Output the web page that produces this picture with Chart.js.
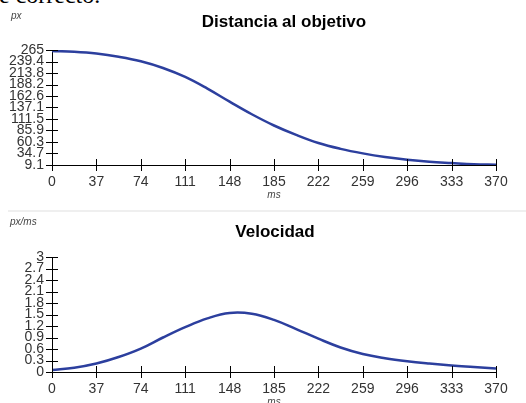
<!DOCTYPE html>
<html>
<head>
<meta charset="utf-8">
<script src="https://cdn.jsdelivr.net/npm/chart.js@4"></script>
<style>
  html, body { margin: 0; padding: 0; background: #fff; overflow: hidden; width: 526px; height: 403px; }
  #corte { position: absolute; left: -1px; top: -18px; font: 24px "Liberation Serif", serif; color: #000; white-space: nowrap; }
  #sep { position: absolute; left: 8px; top: 210px; width: 518px; height: 2px; background: #efefef; }
  #c1 { position: absolute; left: 0; top: 0; }
  #c2 { position: absolute; left: 0; top: 200px; }
</style>
</head>
<body>
<div id="corte">e correcto.</div>
<canvas id="c1" width="526" height="200"></canvas>
<div id="sep"></div>
<canvas id="c2" width="526" height="215"></canvas>
<script>
// ---------------- datos ----------------
const tiempos = [0, 18.5, 37, 55.5, 74, 92.5, 111, 129.5, 148, 166.5, 185, 203.5, 222, 240.5, 259, 277.5, 296, 314.5, 333, 351.5, 370];
const distancia = [263, 261, 257, 250, 240, 225, 205, 179, 150, 122, 97, 76, 58, 45, 35, 27, 21, 16.5, 13.5, 10.8, 9.6];
const velocidad = [0.05, 0.11, 0.22, 0.39, 0.61, 0.9, 1.17, 1.4, 1.54, 1.52, 1.36, 1.12, 0.87, 0.64, 0.47, 0.36, 0.28, 0.22, 0.17, 0.13, 0.09];

const ticksX = [0, 37, 74, 111, 148, 185, 222, 259, 296, 333, 370];
const ticksDistancia = [9.1, 34.7, 60.3, 85.9, 111.5, 137.1, 162.6, 188.2, 213.8, 239.4, 265];
const ticksVelocidad = [0, 0.3, 0.6, 0.9, 1.2, 1.5, 1.8, 2.1, 2.4, 2.7, 3];

const fuenteTicks = "'Liberation Sans Narrow', 'Liberation Sans', Arial, sans-serif";
const colorLinea = '#2c3f9e';

// -------- marcas de los ejes que cruzan la linea + titulos --------
const decoracion = {
    id: 'decoracion',
    afterDraw(chart, args, opts) {
        const ctx = chart.ctx;
        const a = chart.chartArea;
        const sx = chart.scales.x, sy = chart.scales.y;
        ctx.save();
        ctx.strokeStyle = '#000';
        ctx.lineWidth = 1;
        ctx.beginPath();
        sx.ticks.forEach(t => {
            const px = Math.round(sx.getPixelForValue(t.value)) + 0.5;
            ctx.moveTo(px, a.bottom - 6);
            ctx.lineTo(px, a.bottom + 6);
        });
        sy.ticks.forEach(t => {
            const py = Math.round(sy.getPixelForValue(t.value)) + 0.5;
            ctx.moveTo(a.left - 6, py);
            ctx.lineTo(a.left + 6, py);
        });
        ctx.stroke();

        ctx.fillStyle = '#000';
        ctx.font = "bold 17px 'Liberation Sans', Arial, sans-serif";
        ctx.textAlign = 'center';
        ctx.textBaseline = 'middle';
        ctx.fillText(opts.titulo, opts.tituloX, opts.tituloY);

        ctx.fillStyle = '#444';
        ctx.font = "italic 10px 'Liberation Sans', Arial, sans-serif";
        ctx.fillText('ms', (a.left + a.right) / 2, a.bottom + 30);
        ctx.textAlign = 'left';
        ctx.fillText(opts.unidad, opts.unidadX, opts.unidadY);
        ctx.restore();
    }
};

function crearGrafico(id, valores, ticksY, etiquetasY, opciones) {
    const ctx = document.getElementById(id).getContext('2d');
    return new Chart(ctx, {
        type: 'line',
        data: {
            datasets: [{
                data: tiempos.map((t, i) => ({ x: t, y: valores[i] })),
                borderColor: colorLinea,
                borderWidth: 2.5,
                pointRadius: 0,
                tension: 0.4,
                fill: false
            }]
        },
        options: {
            responsive: false,
            animation: false,
            layout: { padding: { top: opciones.arriba, right: 30, left: 0, bottom: 0 } },
            plugins: {
                legend: { display: false },
                tooltip: { enabled: false },
                decoracion: opciones.deco
            },
            scales: {
                x: {
                    type: 'linear',
                    min: 0,
                    max: 370,
                    afterBuildTicks: s => { s.ticks = ticksX.map(v => ({ value: v })); },
                    afterFit: s => { s.height = opciones.altoX; },
                    grid: { display: false, drawTicks: false },
                    border: { display: true, color: '#000', width: 1 },
                    ticks: {
                        autoSkip: false, maxRotation: 0, padding: 9,
                        color: '#333',
                        font: { family: fuenteTicks, size: 14 }
                    }
                },
                y: {
                    type: 'linear',
                    min: ticksY[0],
                    max: ticksY[ticksY.length - 1],
                    afterBuildTicks: s => { s.ticks = ticksY.map(v => ({ value: v })); },
                    afterFit: s => { s.width = 52; },
                    grid: { display: false, drawTicks: false },
                    border: { display: true, color: '#000', width: 1 },
                    ticks: {
                        autoSkip: false, padding: 8,
                        color: '#333',
                        font: { family: fuenteTicks, size: 14, lineHeight: 1 },
                        callback: (v, i) => etiquetasY[i]
                    }
                }
            }
        },
        plugins: [decoracion]
    });
}

crearGrafico('c1', distancia, ticksDistancia,
    ['9.1', '34.7', '60.3', '85.9', '111.5', '137.1', '162.6', '188.2', '213.8', '239.4', '265'],
    { arriba: 50, altoX: 35, deco: { titulo: 'Distancia al objetivo', tituloX: 284, tituloY: 22, unidad: 'px', unidadX: 11, unidadY: 16 } });

crearGrafico('c2', velocidad, ticksVelocidad,
    ['0', '0.3', '0.6', '0.9', '1.2', '1.5', '1.8', '2.1', '2.4', '2.7', '3'],
    { arriba: 57, altoX: 43, deco: { titulo: 'Velocidad', tituloX: 275, tituloY: 32, unidad: 'px/ms', unidadX: 10, unidadY: 22 } });
</script>
</body>
</html>
